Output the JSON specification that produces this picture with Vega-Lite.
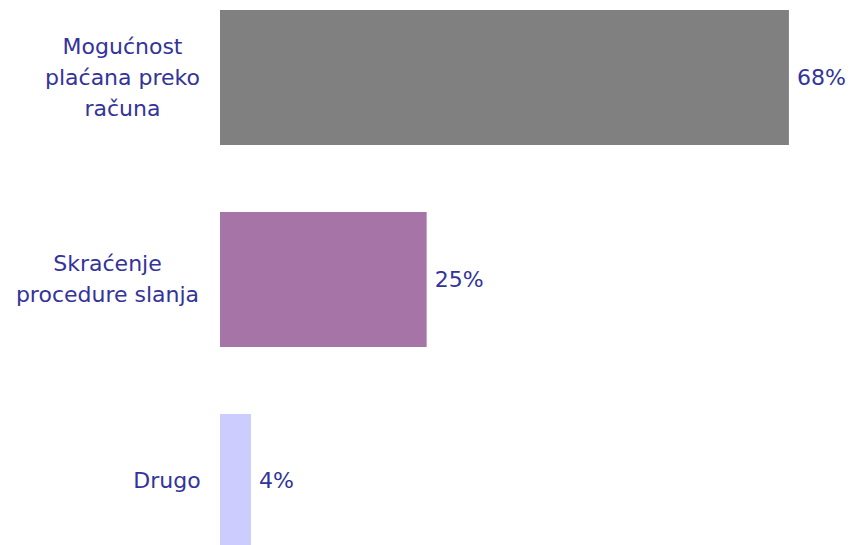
{
  "$schema": "https://vega.github.io/schema/vega-lite/v6.json",
  "autosize": {"type": "none"},
  "padding": {"left": 220, "top": 0, "right": 0, "bottom": -14},
  "width": 630,
  "height": 559,
  "background": "white",
  "config": {"view": {"stroke": null}, "font": "DejaVu Sans"},
  "data": {
    "values": [
      {"category": "Mogućnost plaćana preko računa", "lines": ["Mogućnost", "plaćana preko", "računa"], "value": 68, "text": "68%", "color": "#808080"},
      {"category": "Skraćenje procedure slanja", "lines": ["Skraćenje", "procedure slanja"], "value": 24.7, "text": "25%", "color": "#A674A6"},
      {"category": "Drugo", "lines": ["Drugo"], "value": 3.7, "text": "4%", "color": "#CCCCFF"}
    ]
  },
  "encoding": {
    "y": {
      "field": "category",
      "type": "nominal",
      "sort": null,
      "scale": {"paddingInner": 0.332, "paddingOuter": 0.05},
      "axis": null
    }
  },
  "layer": [
    {
      "mark": {"type": "bar"},
      "encoding": {
        "x": {"field": "value", "type": "quantitative", "scale": {"domain": [0, 75.3], "nice": false}, "axis": null},
        "color": {"field": "color", "type": "nominal", "scale": null}
      }
    },
    {
      "mark": {"type": "text", "align": "left", "baseline": "middle", "dx": 8, "font": "DejaVu Sans", "fontSize": 22, "color": "#333399"},
      "encoding": {
        "x": {"field": "value", "type": "quantitative"},
        "text": {"field": "text"}
      }
    },
    {
      "mark": {
        "type": "text",
        "align": "center",
        "baseline": "middle",
        "font": "DejaVu Sans",
        "fontSize": 22,
        "lineHeight": 31,
        "color": "#333399",
        "dx": {"expr": "datum.category === 'Drugo' ? -53 : (indexof(datum.category, 'Skra') === 0 ? -112.5 : -97.5)"},
        "dy": {"expr": "-(length(datum.lines) - 1) * 15.5"}
      },
      "encoding": {
        "x": {"datum": 0, "type": "quantitative"},
        "text": {"field": "lines"}
      }
    }
  ]
}
